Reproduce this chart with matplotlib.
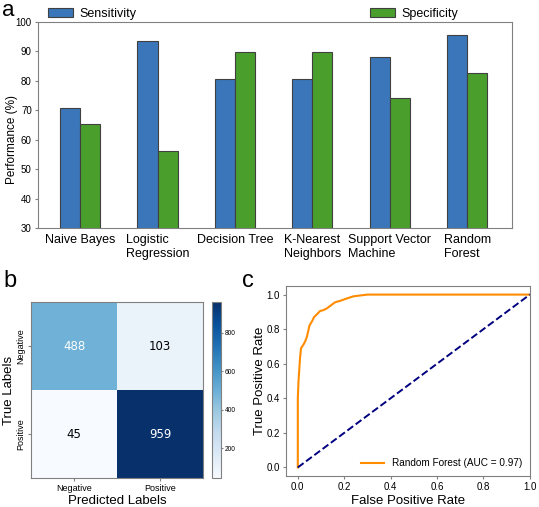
import numpy as np
import matplotlib
matplotlib.use('Agg')
import matplotlib.pyplot as plt
from matplotlib.patches import Patch

plt.rcParams['font.family'] = ['Liberation Sans', 'DejaVu Sans']

# panel a data
models = ['Naive Bayes', 'Logistic\nRegression', 'Decision Tree', 'K-Nearest\nNeighbors',
          'Support Vector\nMachine', 'Random\nForest']
sensitivity = [70.6, 93.5, 80.5, 80.5, 88.1, 95.5]
specificity = [65.4, 56.2, 89.7, 89.7, 74.2, 82.6]

# panel b data
cm_labels = ['Negative', 'Positive']
conf_matrix = [[488, 103],
               [45, 959]]

# panel c data
fpr = [0.0, 0.0, 0.003, 0.006, 0.010, 0.014, 0.024, 0.032, 0.039, 0.045, 0.050,
       0.063, 0.070, 0.078, 0.096, 0.110, 0.125, 0.145, 0.160, 0.185, 0.210,
       0.240, 0.270, 0.300, 0.400, 0.600, 0.800, 1.0]
tpr = [0.0, 0.40, 0.50, 0.56, 0.64, 0.69, 0.71, 0.73, 0.755, 0.79, 0.82,
       0.85, 0.87, 0.88, 0.905, 0.91, 0.92, 0.94, 0.955, 0.965, 0.977,
       0.99, 0.995, 1.0, 1.0, 1.0, 1.0, 1.0]

blue = '#3a76b9'
green = '#4a9e2c'
spine_grey = '#808080'

fig = plt.figure(figsize=(5.39, 5.07), dpi=100)

# ---- a
ax1 = fig.add_axes([0.0705, 0.550, 0.8795, 0.407])
x = np.arange(len(models))
w = 0.26
ax1.bar(x - w / 2, sensitivity, w, color=blue, edgecolor='#404040', linewidth=0.8)
ax1.bar(x + w / 2, specificity, w, color=green, edgecolor='#404040', linewidth=0.8)
ax1.set_ylim(30, 100)
ax1.set_xlim(-0.545, 5.58)
ax1.set_xticks(x)
ax1.set_xticklabels(models, fontsize=9, multialignment='left')
ax1.tick_params(axis='x', length=0, pad=4)
ax1.tick_params(axis='y', labelsize=7, length=2.5, color=spine_grey, pad=2)
ax1.set_ylabel('Performance (%)', fontsize=8.5)
ax1.yaxis.set_label_coords(-0.043, 0.43)
for s in ax1.spines.values():
    s.set_color(spine_grey)

fig.legend(handles=[Patch(facecolor=blue, edgecolor='#404040', linewidth=0.8)],
           labels=['Sensitivity'], loc='center left', bbox_to_anchor=(48 / 539, 1 - 13.5 / 507),
           frameon=False, fontsize=9, borderpad=0, borderaxespad=0, handletextpad=0.55)
fig.legend(handles=[Patch(facecolor=green, edgecolor='#404040', linewidth=0.8)],
           labels=['Specificity'], loc='center left', bbox_to_anchor=(370 / 539, 1 - 13.5 / 507),
           frameon=False, fontsize=9, borderpad=0, borderaxespad=0, handletextpad=0.55)

fig.text(0.004, 1 - 16.5 / 507, 'a', fontsize=16, va='baseline', ha='left')

# ---- b
ax2 = fig.add_axes([0.0575, 0.057, 0.3195, 0.347])
cax = fig.add_axes([0.393, 0.057, 0.0167, 0.347])
cm = np.array(conf_matrix)
im = ax2.imshow(cm, cmap='Blues', vmin=cm.min(), vmax=cm.max(), aspect='auto')
for i in range(2):
    for j in range(2):
        val = cm[i, j]
        col = 'white' if val > 400 else 'black'
        ax2.text(j, i, str(val), ha='center', va='center', color=col, fontsize=8.5,
                 family='DejaVu Sans')
ax2.set_xticks([0, 1])
ax2.set_yticks([0, 1])
ax2.set_xticklabels(cm_labels, fontsize=6.5)
ax2.set_yticklabels(cm_labels, fontsize=6.5, rotation=90, va='center')
ax2.tick_params(length=2, color=spine_grey, pad=2)
ax2.set_xlabel('Predicted Labels', fontsize=9.5, labelpad=2)
ax2.set_ylabel('True Labels', fontsize=9.5)
ax2.yaxis.set_label_coords(-0.09, 0.5)
for s in ax2.spines.values():
    s.set_color(spine_grey)
cb = fig.colorbar(im, cax=cax, ticks=[200, 400, 600, 800])
cb.ax.tick_params(labelsize=4.8, length=1.5, pad=1.5, color=spine_grey)
cb.outline.set_edgecolor(spine_grey)

fig.text(0.0055, 0.434, 'b', fontsize=17, va='baseline', ha='left')

# ---- c
ax3 = fig.add_axes([0.531, 0.061, 0.452, 0.375])
ax3.plot(fpr, tpr, color='darkorange', lw=1.5, label='Random Forest (AUC = 0.97)')
ax3.plot([0, 1], [0, 1], color='navy', lw=1.4, linestyle='--')
ax3.set_xlim(-0.05, 1.0)
ax3.set_ylim(-0.05, 1.05)
ax3.set_xticks([0, 0.2, 0.4, 0.6, 0.8, 1.0])
ax3.set_yticks([0, 0.2, 0.4, 0.6, 0.8, 1.0])
ax3.tick_params(labelsize=7, length=2.5, color=spine_grey, pad=2)
ax3.set_xlabel('False Positive Rate', fontsize=9.5, labelpad=2)
ax3.set_ylabel('True Positive Rate', fontsize=9.5)
ax3.yaxis.set_label_coords(-0.084, 0.5)
for s in ax3.spines.values():
    s.set_color(spine_grey)
ax3.legend(loc='lower right', frameon=False, fontsize=7.2, handlelength=2.3,
           borderaxespad=0.4)

fig.text(0.449, 0.434, 'c', fontsize=17, va='baseline', ha='left')

fig.savefig('out.png', dpi=100)
